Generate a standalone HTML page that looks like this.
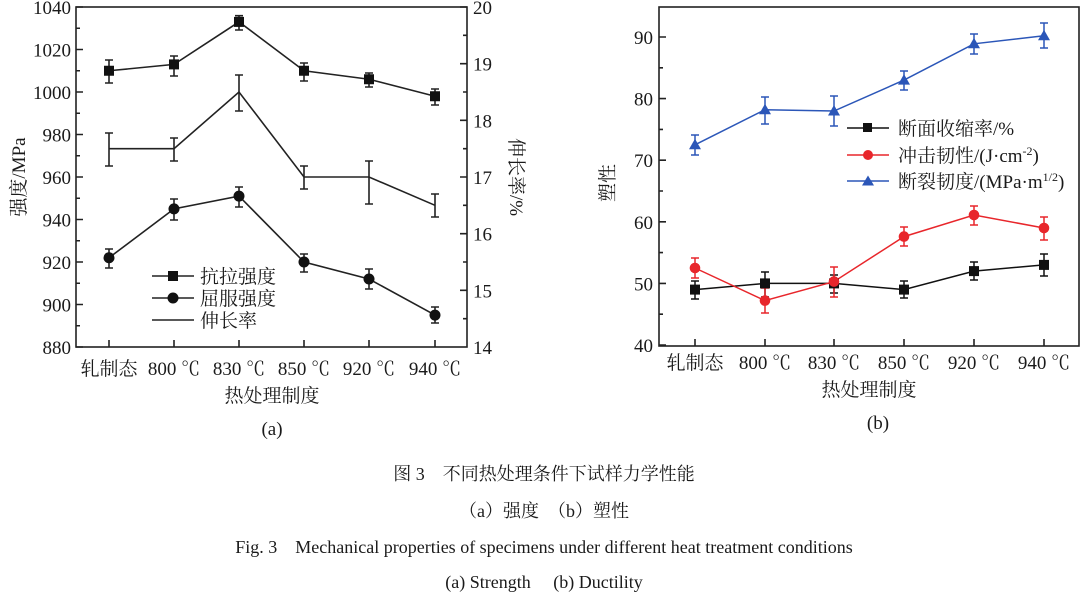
<!DOCTYPE html>
<html><head><meta charset="utf-8"><style>
body{margin:0;background:#fff}
svg{display:block}
text{font-family:"Liberation Serif","Noto Serif CJK SC","Noto Sans CJK SC",serif;fill:#1a1a1a}
</style></head><body>
<svg width="1088" height="601" viewBox="0 0 1088 601" xmlns="http://www.w3.org/2000/svg">
<g stroke="#222" stroke-width="1.6" fill="none">
<rect x="76" y="7" width="391" height="340"/>
<path d="M76 7h7M76 49.5h7M76 92h7M76 134.5h7M76 177h7M76 219.5h7M76 262h7M76 304.5h7M76 347h7
M76 28.25h4M76 70.75h4M76 113.25h4M76 155.75h4M76 198.25h4M76 240.75h4M76 283.25h4M76 325.75h4"/>
<path d="M467 7h-7M467 63.7h-7M467 120.3h-7M467 177h-7M467 233.7h-7M467 290.3h-7
M467 35.3h-4M467 92h-4M467 148.7h-4M467 205.3h-4M467 262h-4M467 318.7h-4"/>
<path d="M109 347v-7M174 347v-7M239 347v-7M304 347v-7M369 347v-7M435 347v-7"/>
<polyline points="109,70.75 174,64.4 239,21.9 304,70.75 369,79.25 435,96.25"/>
<polyline points="109,257.75 174,208.9 239,196.1 304,262 369,279 435,315.1"/>
<polyline points="109,148.7 174,148.7 239,92 304,177 369,177 435,205.3"/>
<path d="M109 60v23M105 60h8M105 83h8 M174 56v20M170 56h8M170 76h8 M239 15.7v14.3M235 15.7h8M235 30h8 M304 63v18M300 63h8M300 81h8 M369 73v14M365 73h8M365 87h8 M435 89v16M431 89h8M431 105h8"/>
<path d="M109 249v19M105 249h8M105 268h8 M174 199v21M170 199h8M170 220h8 M239 187v20M235 187h8M235 207h8 M304 254v18M300 254h8M300 272h8 M369 269v20M365 269h8M365 289h8 M435 307v16M431 307h8M431 323h8"/>
<path d="M109 133v33M105 133h8M105 166h8 M174 138v23M170 138h8M170 161h8 M239 75v36M235 75h8M235 111h8 M304 166v23M300 166h8M300 189h8 M369 161v43M365 161h8M365 204h8 M435 194v23M431 194h8M431 217h8"/>
<path d="M152 276h42M152 298h42M152 320h42"/>
</g>
<g fill="#111">
<rect x="104" y="65.75" width="10" height="10"/><rect x="169" y="59.4" width="10" height="10"/><rect x="234" y="16.9" width="10" height="10"/><rect x="299" y="65.75" width="10" height="10"/><rect x="364" y="74.25" width="10" height="10"/><rect x="430" y="91.25" width="10" height="10"/>
<circle cx="109" cy="257.75" r="5.5"/><circle cx="174" cy="208.9" r="5.5"/><circle cx="239" cy="196.1" r="5.5"/><circle cx="304" cy="262" r="5.5"/><circle cx="369" cy="279" r="5.5"/><circle cx="435" cy="315.1" r="5.5"/>
<rect x="168" y="271" width="10" height="10"/><circle cx="173" cy="298" r="5.5"/>
</g>
<g font-size="19">
<text x="71" y="14" text-anchor="end">1040</text><text x="71" y="56.5" text-anchor="end">1020</text><text x="71" y="99" text-anchor="end">1000</text><text x="71" y="141.5" text-anchor="end">980</text><text x="71" y="184" text-anchor="end">960</text><text x="71" y="226.5" text-anchor="end">940</text><text x="71" y="269" text-anchor="end">920</text><text x="71" y="311.5" text-anchor="end">900</text><text x="71" y="354" text-anchor="end">880</text>
<text x="473" y="14">20</text><text x="473" y="70.7">19</text><text x="473" y="127.3">18</text><text x="473" y="184">17</text><text x="473" y="240.7">16</text><text x="473" y="297.3">15</text><text x="473" y="354">14</text>
<text x="109" y="375" text-anchor="middle">轧制态</text><text x="174" y="375" text-anchor="middle">800 ℃</text><text x="239" y="375" text-anchor="middle">830 ℃</text><text x="304" y="375" text-anchor="middle">850 ℃</text><text x="369" y="375" text-anchor="middle">920 ℃</text><text x="435" y="375" text-anchor="middle">940 ℃</text>
<text x="272" y="402" text-anchor="middle">热处理制度</text>
<text x="272" y="435" text-anchor="middle">(a)</text>
<text transform="translate(25,177) rotate(-90)" text-anchor="middle">强度/MPa</text>
<text transform="translate(510,177) rotate(90)" text-anchor="middle">伸长率/%</text>
<text x="200" y="283">抗拉强度</text><text x="200" y="305">屈服强度</text><text x="200" y="327">伸长率</text>
</g>

<g stroke="#222" stroke-width="1.6" fill="none">
<rect x="659" y="7" width="420" height="339"/>
<path d="M659 345h7M659 283.4h7M659 221.8h7M659 160.2h7M659 98.6h7M659 37h7
M659 314.2h4M659 252.6h4M659 191h4M659 129.4h4M659 67.8h4"/>
<path d="M695 346v-7M765 346v-7M834 346v-7M904 346v-7M974 346v-7M1044 346v-7"/>
</g>
<g fill="none" stroke-width="1.5">
<g stroke="#111">
<polyline points="695,289.6 765,283.4 834,283.4 904,289.6 974,271.1 1044,264.9"/>
<path d="M695 281v18M691 281h8M691 299h8 M765 272v25M761 272h8M761 297h8 M834 275v18M830 275h8M830 293h8 M904 281v17M900 281h8M900 298h8 M974 262v18M970 262h8M970 280h8 M1044 254v22M1040 254h8M1040 276h8 M847 128h42"/>
</g>
<g stroke="#e8262b">
<polyline points="695,268 765,300.6 834,281.6 904,236.6 974,215 1044,228"/>
<path d="M695 258v20M691 258h8M691 278h8 M765 288v25M761 288h8M761 313h8 M834 267v30M830 267h8M830 297h8 M904 227v19M900 227h8M900 246h8 M974 206v19M970 206h8M970 225h8 M1044 217v23M1040 217h8M1040 240h8 M847 155h42"/>
</g>
<g stroke="#2b56b8">
<polyline points="695,144.8 765,109.7 834,111 904,80.1 974,43.8 1044,35.8"/>
<path d="M695 135v20M691 135h8M691 155h8 M765 97v27M761 97h8M761 124h8 M834 96v30M830 96h8M830 126h8 M904 71v19M900 71h8M900 90h8 M974 34v20M970 34h8M970 54h8 M1044 23v25M1040 23h8M1040 48h8 M847 181h42"/>
</g>
</g>
<g fill="#111"><rect x="690" y="284.6" width="10" height="10"/><rect x="760" y="278.4" width="10" height="10"/><rect x="829" y="278.4" width="10" height="10"/><rect x="899" y="284.6" width="10" height="10"/><rect x="969" y="266.1" width="10" height="10"/><rect x="1039" y="259.9" width="10" height="10"/><rect x="863" y="123" width="9" height="9"/></g>
<g fill="#e8262b"><circle cx="695" cy="268" r="5.3"/><circle cx="765" cy="300.6" r="5.3"/><circle cx="834" cy="281.6" r="5.3"/><circle cx="904" cy="236.6" r="5.3"/><circle cx="974" cy="215" r="5.3"/><circle cx="1044" cy="228" r="5.3"/><circle cx="868" cy="155" r="5"/></g>
<g fill="#2b56b8"><path d="M695 138.8l6 10.5h-12z"/><path d="M765 103.7l6 10.5h-12z"/><path d="M834 105l6 10.5h-12z"/><path d="M904 74.1l6 10.5h-12z"/><path d="M974 37.8l6 10.5h-12z"/><path d="M1044 29.8l6 10.5h-12z"/><path d="M868 175.5l6 10h-12z"/></g>
<g font-size="19">
<text x="653" y="352" text-anchor="end">40</text><text x="653" y="290.4" text-anchor="end">50</text><text x="653" y="228.8" text-anchor="end">60</text><text x="653" y="167.2" text-anchor="end">70</text><text x="653" y="105.6" text-anchor="end">80</text><text x="653" y="44" text-anchor="end">90</text>
<text x="695" y="369" text-anchor="middle">轧制态</text><text x="765" y="369" text-anchor="middle">800 ℃</text><text x="834" y="369" text-anchor="middle">830 ℃</text><text x="904" y="369" text-anchor="middle">850 ℃</text><text x="974" y="369" text-anchor="middle">920 ℃</text><text x="1044" y="369" text-anchor="middle">940 ℃</text>
<text x="869" y="396" text-anchor="middle">热处理制度</text>
<text x="878" y="429" text-anchor="middle">(b)</text>
<text transform="translate(614,183) rotate(-90)" text-anchor="middle">塑性</text>
<text x="898" y="135">断面收缩率/%</text>
<text x="898" y="162">冲击韧性/(J·cm<tspan font-size="12" dy="-7">-2</tspan><tspan dy="7">)</tspan></text>
<text x="898" y="188">断裂韧度/(MPa·m<tspan font-size="12" dy="-7">1/2</tspan><tspan dy="7">)</tspan></text>
</g>
<g font-size="18" text-anchor="middle">
<text x="544" y="480">图 3　不同热处理条件下试样力学性能</text>
<text x="544" y="517">（a）强度　（b）塑性</text>
<text x="544" y="553">Fig. 3　Mechanical properties of specimens under different heat treatment conditions</text>
<text x="544" y="588">(a) Strength　 (b) Ductility</text>
</g>
</svg>
</body></html>
